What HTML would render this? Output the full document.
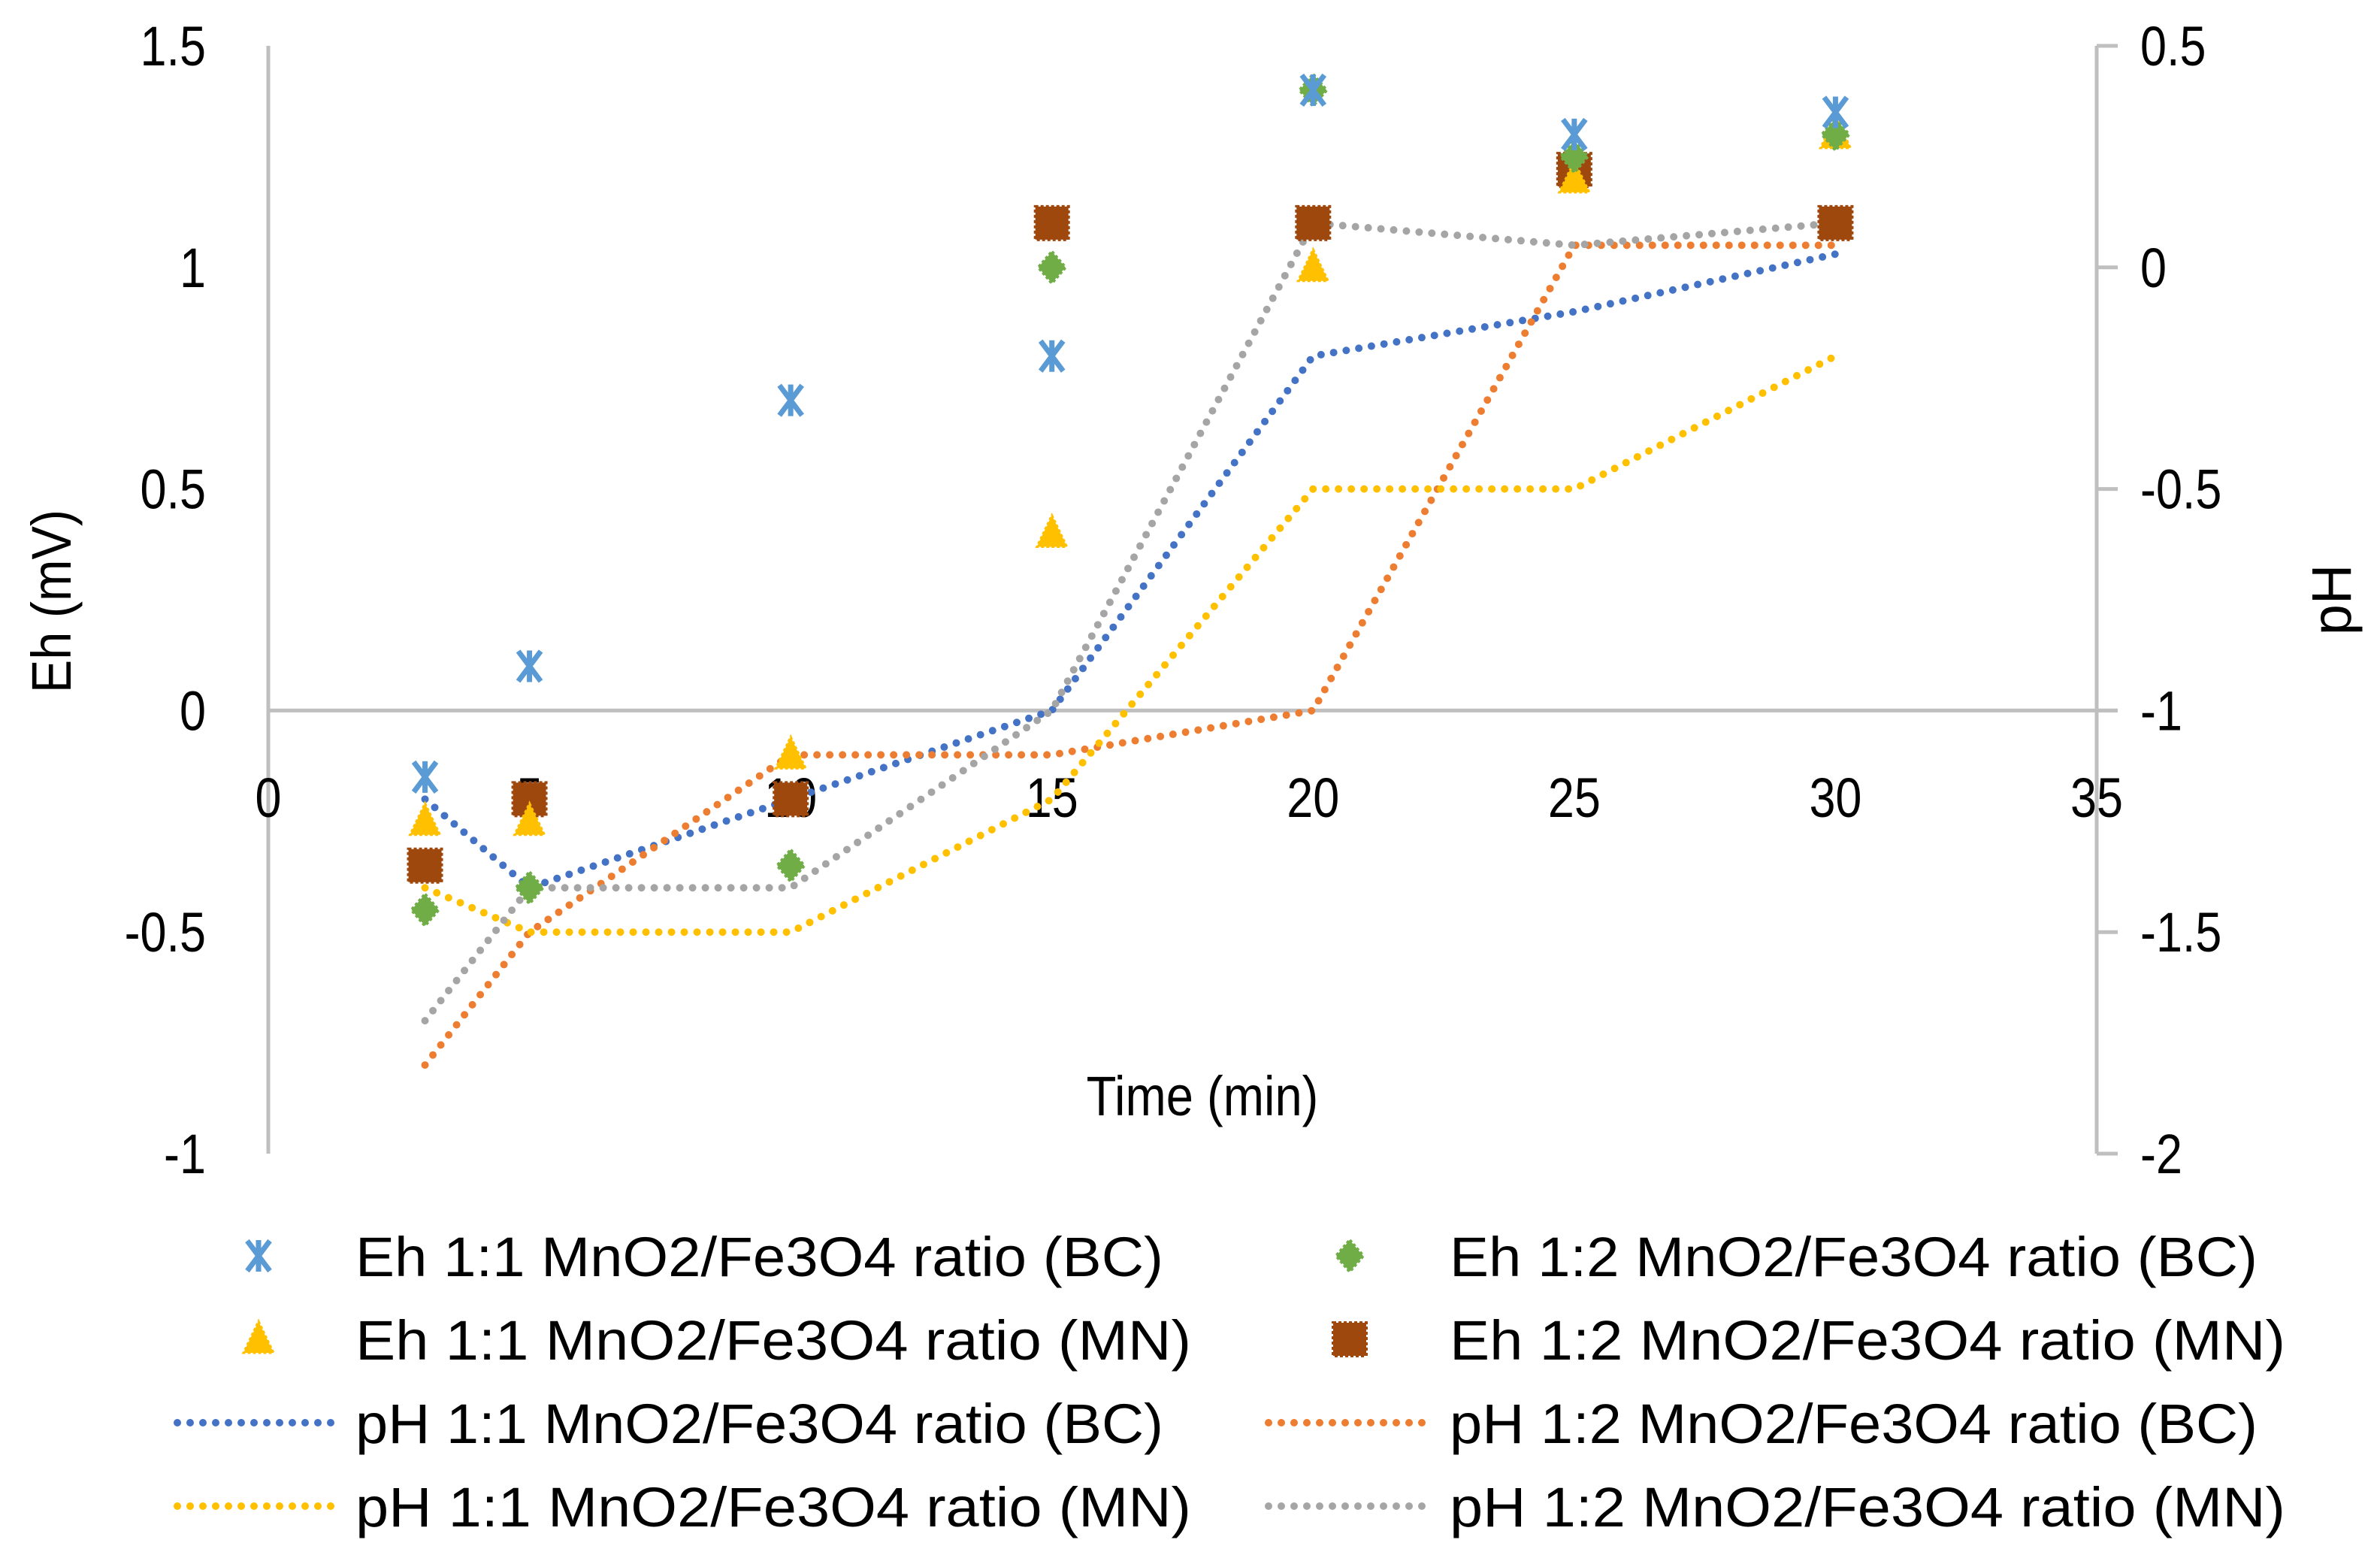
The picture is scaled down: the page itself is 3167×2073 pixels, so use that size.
<!DOCTYPE html>
<html><head><meta charset="utf-8"><style>
html,body{margin:0;padding:0;background:#fff;}
svg{display:block;font-family:"Liberation Sans",sans-serif;}
</style></head><body>
<svg id="chart" width="3167" height="2073" viewBox="0 0 3167 2073" xmlns="http://www.w3.org/2000/svg">
<g id="axes"></g><g id="lines"></g><g id="marks"></g><g id="legend"></g>
</svg>
<script>
const times = [3, 5, 10, 15, 20, 25, 30];
const ehBC11 = [-0.15, 0.1, 0.7, 0.8, 1.4, 1.3, 1.35];
const ehBC12 = [-0.45, -0.4, -0.35, 1.0, 1.4, 1.25, 1.3];
const ehMN11 = [-0.25, -0.25, -0.1, 0.4, 1.0, 1.2, 1.3];
const ehMN12 = [-0.35, -0.2, -0.2, 1.1, 1.1, 1.22, 1.1];
const phBC11 = [-1.2, -1.4, -1.2, -1.0, -0.2, -0.1, 0.03];
const phBC12 = [-1.8, -1.5, -1.1, -1.1, -1.0, 0.05, 0.05];
const phMN11 = [-1.4, -1.5, -1.5, -1.2, -0.5, -0.5, -0.2];
const phMN12 = [-1.7, -1.4, -1.4, -1.0, 0.1, 0.05, 0.1];
const xTicks = [0, 5, 10, 15, 20, 25, 30, 35];
const yLeftTicks = [1.5, 1, 0.5, 0, -0.5, -1];
const yRightTicks = [0.5, 0, -0.5, -1, -1.5, -2];

const NS = "http://www.w3.org/2000/svg";
const X0 = 357, X1 = 2790, YT = 61, YB = 1535;
const xs = t => X0 + (t / 35) * (X1 - X0);
const yl = v => YT + (1.5 - v) / 2.5 * (YB - YT);
const yr = v => YT + (0.5 - v) / 2.5 * (YB - YT);
function mk(tag, attrs, parent) {
  const e = document.createElementNS(NS, tag);
  for (const k in attrs) e.setAttribute(k, attrs[k]);
  document.getElementById(parent).appendChild(e);
  return e;
}
function narrow(el, f) {
  const w = el.getComputedTextLength();
  el.setAttribute("textLength", w * f);
  el.setAttribute("lengthAdjust", "spacingAndGlyphs");
}
const AX = "#bfbfbf";
const FS = 74;
let e;
e = mk("line", {x1: X0, y1: YT, x2: X0, y2: YB, stroke: AX, "stroke-width": 5}, "axes");
 
e = mk("line", {x1: X1, y1: YT, x2: X1, y2: YB, stroke: AX, "stroke-width": 5}, "axes");
 
e = mk("line", {x1: X0, y1: yl(0), x2: X1 + 28, y2: yl(0), stroke: AX, "stroke-width": 5}, "axes");
 
yRightTicks.forEach(v => {
  const t = mk("line", {x1: X1, y1: yr(v), x2: X1 + 28, y2: yr(v), stroke: AX, "stroke-width": 5}, "axes");
   
  const l = mk("text", {x: X1 + 58, y: yr(v) + 26, "font-size": FS, fill: "#000"}, "axes");
  l.textContent = String(v);
  narrow(l, 0.85);
   
});
yLeftTicks.forEach(v => {
  const l = mk("text", {x: 274, y: yl(v) + 26, "font-size": FS, "text-anchor": "end", fill: "#000"}, "axes");
  l.textContent = String(v);
  narrow(l, 0.85);
   
});
xTicks.forEach(v => {
  const l = mk("text", {x: xs(v), y: 1087, "font-size": FS, "text-anchor": "middle", fill: "#000"}, "axes");
  l.textContent = String(v);
  narrow(l, 0.85);
   
});
e = mk("text", {x: 1600, y: 1484, "font-size": FS, "text-anchor": "middle"}, "axes");
e.textContent = "Time (min)";
narrow(e, 0.88);
 
e = mk("text", {x: 0, y: 0, "font-size": FS, "text-anchor": "middle", transform: "translate(94,800) rotate(-90)"}, "axes");
e.textContent = "Eh (mV)";
narrow(e, 0.9);
 
e = mk("text", {x: 0, y: 0, "font-size": FS, "text-anchor": "middle", transform: "translate(3128,798) rotate(-90)"}, "axes");
e.textContent = "pH";
 

const lineSeries = [[phBC11, "#4472c4", "ph-1-1-bc-line"], [phBC12, "#ed7d31", "ph-1-2-bc-line"], [phMN11, "#ffc000", "ph-1-1-mn-line"], [phMN12, "#a5a5a5", "ph-1-2-mn-line"]];
lineSeries.forEach(([arr, c, n]) => {
  const p = mk("polyline", {points: arr.map((v, i) => xs(times[i]) + "," + yr(v)).join(" "), fill: "none", stroke: c, "stroke-width": 10, "stroke-linecap": "round", "stroke-dasharray": "0 17"}, "lines");
   
});

function marker(type, cx, cy, parent) {
  let g;
  if (type === "x") {
    g = mk("path", {d: `M${cx-15},${cy-20}L${cx+15},${cy+20}M${cx+15},${cy-20}L${cx-15},${cy+20}M${cx},${cy-21}L${cx},${cy+21}`, stroke: "#5b9bd5", "stroke-width": 7, fill: "none"}, parent);
  } else if (type === "tri") {
    g = mk("path", {d: `M${cx},${cy-24}L${cx+20},${cy+18}L${cx-20},${cy+18}Z`, fill: "#ffc000", stroke: "#ffc000", "stroke-width": 3, "stroke-dasharray": "4 3"}, parent);
  } else if (type === "dia") {
    g = mk("path", {d: `M${cx},${cy-21}L${cx+18},${cy}L${cx},${cy+21}L${cx-18},${cy}Z`, fill: "#70ad47", stroke: "#70ad47", "stroke-width": 4, "stroke-dasharray": "4 3"}, parent);
  } else {
    g = mk("rect", {x: cx - 22, y: cy - 22, width: 44, height: 44, fill: "#9e480e", stroke: "#9e480e", "stroke-width": 4, "stroke-dasharray": "4 3"}, parent);
  }
  return g;
}
const markSeries = [[ehMN12, "sq", "eh-1-2-mn-point"], [ehMN11, "tri", "eh-1-1-mn-point"], [ehBC12, "dia", "eh-1-2-bc-point"], [ehBC11, "x", "eh-1-1-bc-point"]];
markSeries.forEach(([arr, t, n]) => {
  arr.forEach((v, i) => {
    const m = marker(t, xs(times[i]), yl(v), "marks");
     
  });
});

const legendItems = [
  ["x", "Eh 1:1 MnO2/Fe3O4 ratio (BC)", 0, 1671], ["dia", "Eh 1:2 MnO2/Fe3O4 ratio (BC)", 1, 1671],
  ["tri", "Eh 1:1 MnO2/Fe3O4 ratio (MN)", 0, 1782], ["sq", "Eh 1:2 MnO2/Fe3O4 ratio (MN)", 1, 1782],
  ["#4472c4", "pH 1:1 MnO2/Fe3O4 ratio (BC)", 0, 1893], ["#ed7d31", "pH 1:2 MnO2/Fe3O4 ratio (BC)", 1, 1893],
  ["#ffc000", "pH 1:1 MnO2/Fe3O4 ratio (MN)", 0, 2004], ["#a5a5a5", "pH 1:2 MnO2/Fe3O4 ratio (MN)", 1, 2004]
];
legendItems.forEach(([t, label, col, y]) => {
  const mx = col ? 1796 : 344, tx = col ? 1929 : 473;
  let m;
  if (t[0] === "#") {
    m = mk("line", {x1: mx - 108, y1: y, x2: mx + 102, y2: y, stroke: t, "stroke-width": 10, "stroke-linecap": "round", "stroke-dasharray": "0 17"}, "legend");
  } else {
    m = marker(t, mx, y, "legend");
  }
   
  const l = mk("text", {x: tx, y: y + 27, "font-size": FS, textLength: label.endsWith("(MN)") ? 1112 : 1075, lengthAdjust: "spacingAndGlyphs"}, "legend");
  l.textContent = label;
   
});
</script>
</body></html>
